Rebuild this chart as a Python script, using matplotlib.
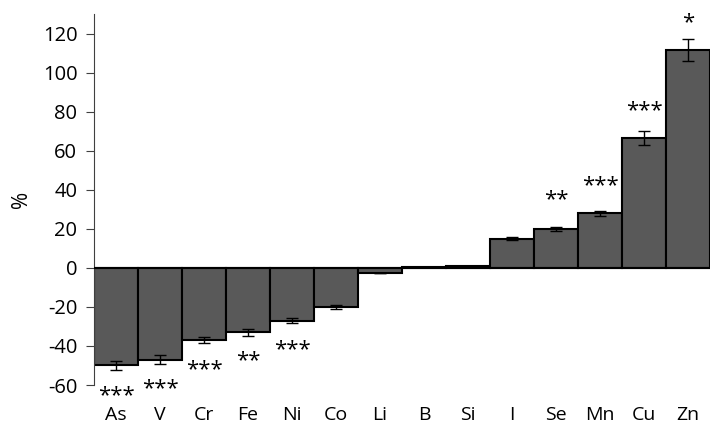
import matplotlib
matplotlib.use("Agg")
import matplotlib.pyplot as plt

plt.rcParams['font.family'] = ['Open Sans', 'DejaVu Sans']
plt.rcParams['axes.unicode_minus'] = False

elements = ["As", "V", "Cr", "Fe", "Ni", "Co", "Li", "B", "Si", "I", "Se", "Mn", "Cu", "Zn"]
change = [-50, -47, -37, -33, -27, -20, -2.5, 0.5, 1, 15, 20, 28, 66.5, 111.5]
err = [2.4, 2.3, 1.7, 1.7, 1.4, 0.9, 0, 0, 0, 0.7, 1.0, 1.2, 3.4, 5.5]
stars = ["***", "***", "***", "**", "***", "", "", "", "", "", "**", "***", "***", "*"]
# vertical centre of each significance mark (data units)
star_y = [-63.4, -60, -50, -45.7, -39.7, 0, 0, 0, 0, 0, 36.8, 44, 82.5, 127.6]

fig = plt.figure(figsize=(7.1, 4.26), dpi=100)
ax = fig.add_axes([0.1324, 0.0962, 0.8676, 0.8709])

x = range(len(elements))
ax.bar(x, change, width=1.0, color="#595959", edgecolor="black", linewidth=1.5,
       yerr=err, capsize=4, error_kw={"elinewidth": 1, "capthick": 1, "ecolor": "black"}, zorder=2)
ax.axhline(0, color="black", linewidth=1.5, zorder=3)

for i in x:
    if stars[i] == "":
        continue
    # asterisk sits a few units above the baseline at this size
    ax.text(i, star_y[i] - 4.8, stars[i], ha="center", va="baseline", fontsize=16)

ax.set_xlim(-0.5, 13.5)
ax.set_ylim(-60, 130)
ax.set_yticks(range(-60, 121, 20))
ax.set_xticks(list(x))
ax.set_xticklabels(elements)
ax.tick_params(axis="x", length=0, pad=15, labelsize=14)
ax.tick_params(axis="y", length=6, pad=6, labelsize=14.5, color="#404040")
ax.spines["top"].set_visible(False)
ax.spines["right"].set_visible(False)
ax.spines["bottom"].set_visible(False)
ax.spines["left"].set_color("#404040")
ax.set_ylabel("%", fontsize=15, labelpad=8)

fig.savefig("out.png", dpi=100)
